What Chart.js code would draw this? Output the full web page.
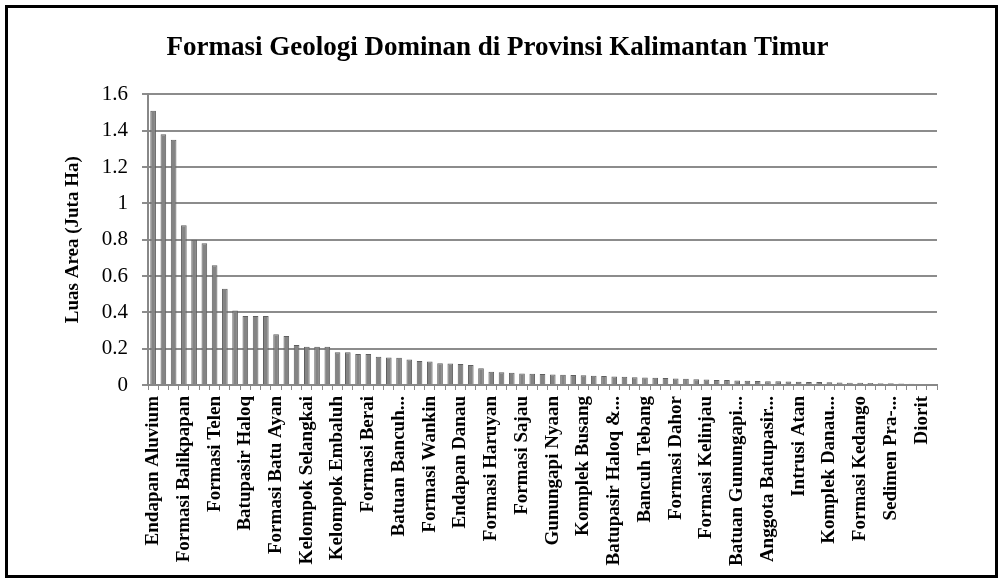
<!DOCTYPE html>
<html>
<head>
<meta charset="utf-8">
<script src="https://cdn.jsdelivr.net/npm/chart.js@4"></script>
<style>
  html, body { margin: 0; padding: 0; background: #fff; }
  #frame { position: absolute; left: 5px; top: 5px; width: 993px; height: 573px;
           box-sizing: border-box; border: 3px solid #000; }
  #wrap { position: absolute; left: 0; top: 0; width: 1001px; height: 580px; }
</style>
</head>
<body>
<div id="frame"></div>
<div id="wrap"><canvas id="myChart"></canvas></div>
<script>
'use strict';

// names of the formations shown on the axis (every third category is labelled)
var categories = [
  'Endapan Aluvium', '', '', 'Formasi Balikpapan', '', '', 'Formasi Telen', '', '',
  'Batupasir Haloq', '', '', 'Formasi Batu Ayan', '', '', 'Kelompok Selangkai', '', '',
  'Kelompok Embaluh', '', '', 'Formasi Berai', '', '', 'Batuan Bancuh...', '', '',
  'Formasi Wankin', '', '', 'Endapan Danau', '', '', 'Formasi Haruyan', '', '',
  'Formasi Sajau', '', '', 'Gunungapi Nyaan', '', '', 'Komplek Busang', '', '',
  'Batupasir Haloq &...', '', '', 'Bancuh Tebang', '', '', 'Formasi Dahor', '', '',
  'Formasi Kelinjau', '', '', 'Batuan Gunungapi...', '', '', 'Anggota Batupasir...', '', '',
  'Intrusi Atan', '', '', 'Komplek Danau...', '', '', 'Formasi Kedango', '', '',
  'Sedimen Pra-...', '', '', 'Diorit', ''
];

// Luas Area (Juta Ha)
var luasArea = [
  1.51, 1.38, 1.35, 0.88, 0.80, 0.78, 0.66, 0.53, 0.41, 0.38,
  0.38, 0.38, 0.28, 0.27, 0.22, 0.21, 0.21, 0.21, 0.18, 0.18,
  0.17, 0.17, 0.156, 0.152, 0.15, 0.141, 0.132, 0.13, 0.12, 0.119,
  0.116, 0.11, 0.092, 0.073, 0.07, 0.068, 0.064, 0.062, 0.06, 0.058,
  0.056, 0.055, 0.053, 0.051, 0.049, 0.047, 0.045, 0.043, 0.041, 0.04,
  0.038, 0.036, 0.034, 0.032, 0.03, 0.028, 0.027, 0.025, 0.024, 0.022,
  0.021, 0.02, 0.019, 0.018, 0.017, 0.016, 0.015, 0.014, 0.013, 0.012,
  0.011, 0.01, 0.009, 0.008, 0.007, 0.006, 0.005
];

var yTicks = [0, 0.2, 0.4, 0.6, 0.8, 1, 1.2, 1.4, 1.6];

var serif = 'Liberation Serif';

var ctx = document.getElementById('myChart').getContext('2d');
var chart = new Chart(ctx, {
    type: 'bar',
    data: {
        labels: categories,
        datasets: [{
            label: 'Luas Area (Juta Ha)',
            backgroundColor: '#848484',
            borderColor: '#5f5f5f',
            borderWidth: 1,
            barPercentage: 0.55,
            categoryPercentage: 1,
            data: luasArea,
        }]
    },
    options: {
        responsive: true,
        maintainAspectRatio: false,
        animation: false,
        layout: { padding: { left: 58, right: 64, top: 0, bottom: 0 } },
        plugins: {
            legend: { display: false },
            tooltip: { enabled: false },
            title: {
                display: true,
                text: 'Formasi Geologi Dominan di Provinsi Kalimantan Timur',
                color: '#000',
                font: { family: serif, size: 27, weight: 'bold' },
                padding: { top: 32, bottom: 30 }
            }
        },
        scales: {
            x: {
                offset: true,
                grid: { display: true, drawOnChartArea: false, drawTicks: true, tickLength: 5,
                        color: '#888', offset: true },
                border: { color: '#888', width: 2 },
                ticks: {
                    autoSkip: false, maxRotation: 90, minRotation: 90, padding: 6,
                    color: '#000',
                    font: { family: serif, size: 19, weight: 'bold' }
                },
                afterFit: function (scale) { scale.height = 195; }
            },
            y: {
                min: 0, max: 1.6,
                afterBuildTicks: function (scale) {
                    scale.ticks = yTicks.map(function (v) { return { value: v }; });
                },
                grid: { color: '#8c8c8c', lineWidth: 2, tickLength: 6 },
                border: { color: '#888', width: 2 },
                ticks: {
                    color: '#000', padding: 14,
                    font: { family: serif, size: 21 },
                    callback: function (v) { return String(v); }
                },
                title: {
                    display: true, text: 'Luas Area (Juta Ha)', color: '#000',
                    font: { family: serif, size: 19, weight: 'bold' }
                },
                afterFit: function (scale) { scale.width = 90; }
            }
        }
    },
});
</script>
</body>
</html>
